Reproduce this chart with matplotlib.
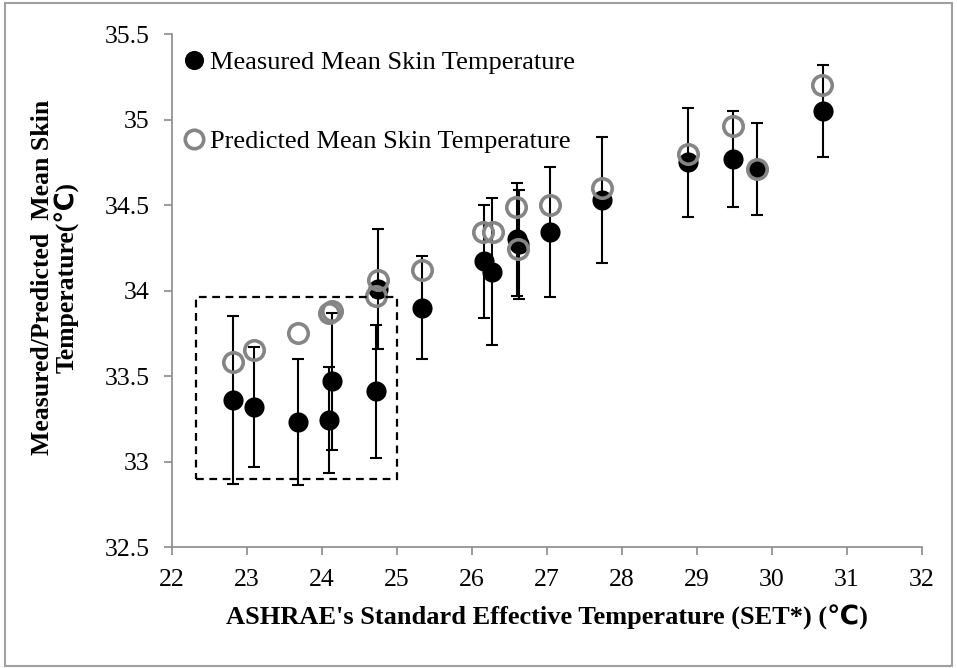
import matplotlib
matplotlib.use("Agg")
import matplotlib.pyplot as plt
from matplotlib.patches import Rectangle

plt.rcParams["font.family"] = ["Liberation Serif", "DejaVu Sans"]

# measured mean skin temperature (filled) with SD error bars
set_meas = [22.82, 23.09, 23.68, 24.09, 24.13, 24.72, 24.75, 25.34, 26.16,
            26.27, 26.60, 26.63, 27.04, 27.74, 28.88, 29.48, 29.80, 30.68]
skin_meas = [33.36, 33.32, 33.23, 33.24, 33.47, 33.41, 34.01, 33.90, 34.17,
             34.11, 34.30, 34.27, 34.34, 34.53, 34.75, 34.77, 34.71, 35.05]
skin_sd = [0.49, 0.35, 0.37, 0.31, 0.40, 0.39, 0.35, 0.30, 0.33,
           0.43, 0.33, 0.32, 0.38, 0.37, 0.32, 0.28, 0.27, 0.27]

# predicted mean skin temperature (open)
set_pred = [22.82, 23.09, 23.68, 24.09, 24.13, 24.72, 24.75, 25.34, 26.15,
            26.28, 26.59, 26.62, 27.04, 27.74, 28.88, 29.48, 29.80, 30.67]
skin_pred = [33.58, 33.65, 33.75, 33.87, 33.88, 33.97, 34.06, 34.12, 34.34,
             34.34, 34.49, 34.24, 34.50, 34.60, 34.80, 34.96, 34.71, 35.20]

fig = plt.figure(figsize=(9.57, 6.68), dpi=100)
ax = fig.add_axes([0.1797, 0.1811, 0.7837, 0.7680])

ax.errorbar(set_meas, skin_meas, yerr=skin_sd, fmt="none", ecolor="black",
            elinewidth=1.5, capsize=4.5, capthick=1.5, zorder=2)
meas, = ax.plot(set_meas, skin_meas, "o", color="black", ms=14.5, mew=0,
                ls="none", zorder=3, label="Measured Mean Skin Temperature")
pred, = ax.plot(set_pred, skin_pred, "o", mfc="none", mec="#858585", ms=14,
                mew=2.6, ls="none", zorder=4,
                label="Predicted Mean Skin Temperature")

# highlighted region
ax.add_patch(Rectangle((22.32, 32.90), 2.68, 1.06, fill=False, ec="black",
                       ls=(0, (3.5, 2.5)), lw=1.6, zorder=5))

ax.set_xlim(22, 32)
ax.set_ylim(32.5, 35.5)
ax.set_xticks(range(22, 33))
ax.set_yticks([32.5, 33, 33.5, 34, 34.5, 35, 35.5])
ax.set_yticklabels(["32.5", "33", "33.5", "34", "34.5", "35", "35.5"])
for s in ["top", "right"]:
    ax.spines[s].set_visible(False)
for s in ["left", "bottom"]:
    ax.spines[s].set_color("#8a8a8a")
    ax.spines[s].set_linewidth(1.2)
ax.tick_params(direction="out", length=6, width=1.2, color="#8a8a8a",
               labelsize=18.5, pad=10)

fig.text(0.5715, 0.076, "ASHRAE's Standard Effective Temperature (SET*) (℃)",
         ha="center", va="center", fontsize=19, fontweight="bold")
fig.text(0.058, 0.585, "Measured/Predicted  Mean Skin\nTemperature(℃)",
         ha="center", va="center", rotation=90, fontsize=18.5,
         fontweight="bold", linespacing=1.0, multialignment="center")

ax.legend(handles=[meas, pred], loc="upper left",
          bbox_to_anchor=(0.177, 0.944), bbox_transform=fig.transFigure,
          frameon=False, fontsize=19, handlelength=0.9, handletextpad=0.12,
          labelspacing=2.1, borderpad=0, markerscale=0.95)

# outer frame
fig.patches.append(Rectangle((0.005, 0.003), 0.99, 0.992, fill=False,
                             ec="#a0a0a0", lw=1.5,
                             transform=fig.transFigure, figure=fig))

fig.savefig("out.png", dpi=100)
